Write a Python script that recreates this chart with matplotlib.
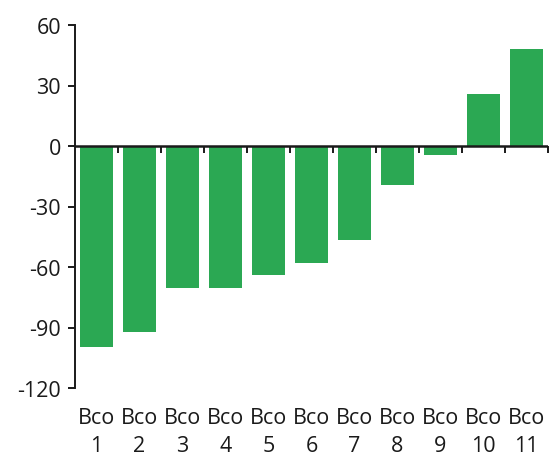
import matplotlib
matplotlib.use("Agg")
import matplotlib.pyplot as plt
import numpy as np

banks = ["Bco\n1", "Bco\n2", "Bco\n3", "Bco\n4", "Bco\n5", "Bco\n6",
         "Bco\n7", "Bco\n8", "Bco\n9", "Bco\n10", "Bco\n11"]
values = [-99.5, -92.3, -70.6, -70.4, -63.8, -57.9, -46.6, -19.2, -4.3, 25.8, 48.1]
yticks = [60, 30, 0, -30, -60, -90, -120]

plt.rcParams['font.family'] = ['Open Sans', 'DejaVu Sans']
plt.rcParams['axes.unicode_minus'] = False

fig = plt.figure(figsize=(5.53, 4.60), dpi=100)
ax = fig.add_axes([75/553, 1 - 389/460, (548 - 75)/553, (389 - 26)/460])

x = np.arange(len(banks))
ax.bar(x, values, width=0.77, color="#2BA853", zorder=2)

ymin, ymax = -120, 60
ax.set_ylim(ymin, ymax)
ax.set_xlim(-0.5, len(banks) - 0.5)
ax.set_yticks(yticks)
ax.tick_params(axis='y', direction='out', length=5, width=1.4, labelsize=15.5,
               pad=5, colors='#1a1a1a')

for s in ['top', 'right', 'bottom']:
    ax.spines[s].set_visible(False)
ax.spines['left'].set_linewidth(1.4)
ax.spines['left'].set_color('#1a1a1a')

# category labels below the plot area
ax.set_xticks(x)
ax.set_xticklabels(banks, fontsize=15.5, linespacing=1.38, color='#1a1a1a')
ax.tick_params(axis='x', length=0, pad=14)

# zero line
ax.axhline(0, color='#1a1a1a', linewidth=1.8, zorder=3)

# separator ticks between categories, hanging below the zero line
zero_frac = (0 - ymin) / (ymax - ymin)
sec = ax.secondary_xaxis(zero_frac)
sec.xaxis.set_ticks_position('bottom')
sec.set_xticks(np.arange(len(banks)) + 0.5)
sec.set_xticklabels([])
sec.tick_params(axis='x', direction='out', length=5, width=1.4, colors='#1a1a1a')
for s in sec.spines.values():
    s.set_visible(False)
sec.set_zorder(3)

fig.savefig("out.png", dpi=100)
